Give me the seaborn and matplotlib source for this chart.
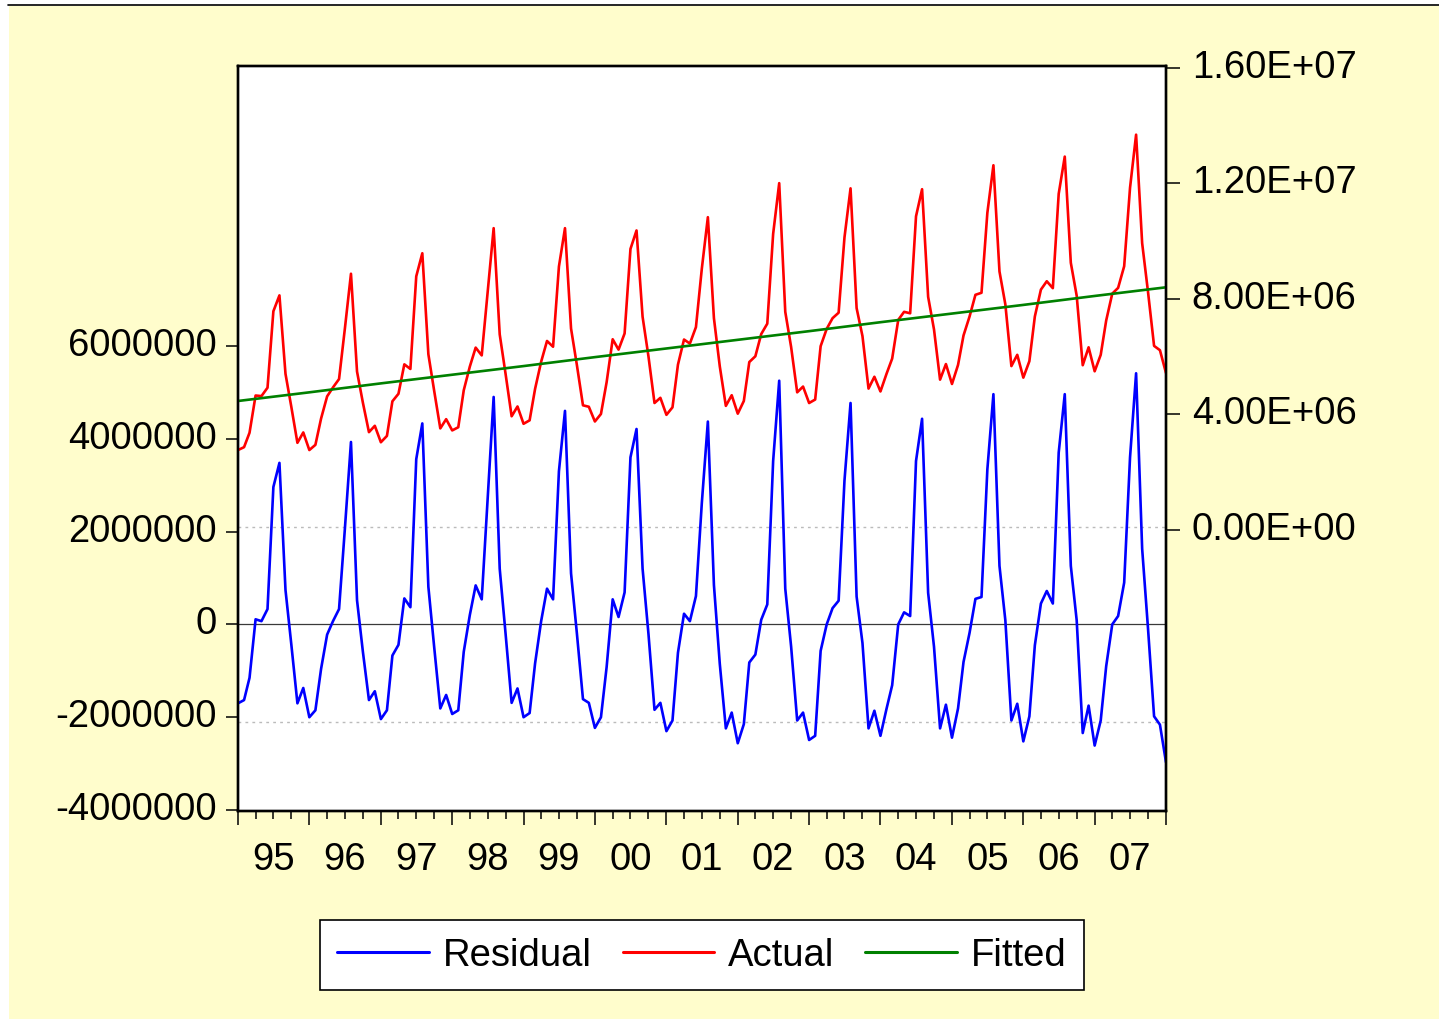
import matplotlib
matplotlib.use("Agg")
import matplotlib.pyplot as plt
import matplotlib.dates as mdates
from matplotlib.ticker import FuncFormatter, NullFormatter
from matplotlib.lines import Line2D
from matplotlib.patches import Rectangle
from matplotlib.transforms import ScaledTranslation
import numpy as np
import pandas as pd
import seaborn as sns

# monthly data Jan 1995 - Jan 2008, in millions
actual = [
    2.76, 2.86, 3.36, 4.65, 4.63, 4.92, 7.57, 8.12, 5.40, 4.25, 3.01, 3.37,
    2.76, 2.94, 3.85, 4.62, 4.93, 5.22, 6.98, 8.87, 5.48, 4.40, 3.38, 3.60,
    3.03, 3.25, 4.45, 4.71, 5.73, 5.57, 8.78, 9.58, 6.08, 4.80, 3.51, 3.83,
    3.44, 3.55, 4.83, 5.65, 6.31, 6.04, 8.20, 10.45, 6.77, 5.40, 3.93, 4.27,
    3.67, 3.79, 4.88, 5.82, 6.54, 6.34, 9.12, 10.45, 6.97, 5.70, 4.31, 4.26,
    3.75, 4.01, 5.11, 6.60, 6.24, 6.80, 9.73, 10.37, 7.38, 6.01, 4.39, 4.57,
    3.98, 4.24, 5.72, 6.59, 6.45, 7.02, 9.04, 10.83, 7.33, 5.66, 4.29, 4.66,
    4.02, 4.46, 5.81, 6.01, 6.78, 7.14, 10.25, 12.01, 7.55, 6.33, 4.76, 4.96,
    4.39, 4.51, 6.36, 6.96, 7.33, 7.52, 10.13, 11.83, 7.68, 6.71, 4.89, 5.30,
    4.79, 5.40, 5.93, 7.27, 7.55, 7.50, 10.86, 11.80, 8.07, 6.94, 5.20, 5.74,
    5.05, 5.71, 6.73, 7.39, 8.14, 8.21, 10.98, 12.63, 8.95, 7.81, 5.67, 6.06,
    5.27, 5.84, 7.39, 8.32, 8.61, 8.37, 11.64, 12.93, 9.25, 8.11, 5.70, 6.32,
    5.49, 6.06, 7.25, 8.18, 8.38, 9.13, 11.85, 13.69, 9.93, 8.24, 6.37, 6.22,
    5.43,
]
residual = [
    -1.70, -1.63, -1.15, 0.11, 0.07, 0.33, 2.96, 3.48, 0.74, -0.44, -1.70, -1.37,
    -2.00, -1.85, -0.96, -0.22, 0.07, 0.33, 2.07, 3.93, 0.52, -0.59, -1.63, -1.44,
    -2.04, -1.85, -0.67, -0.44, 0.56, 0.37, 3.56, 4.33, 0.81, -0.50, -1.81, -1.52,
    -1.93, -1.85, -0.59, 0.20, 0.84, 0.54, 2.68, 4.90, 1.20, -0.20, -1.69, -1.38,
    -2.00, -1.91, -0.84, 0.07, 0.77, 0.54, 3.30, 4.60, 1.10, -0.20, -1.61, -1.69,
    -2.23, -2.00, -0.92, 0.54, 0.16, 0.69, 3.60, 4.21, 1.20, -0.20, -1.84, -1.69,
    -2.30, -2.07, -0.61, 0.23, 0.07, 0.61, 2.61, 4.37, 0.85, -0.85, -2.24, -1.90,
    -2.56, -2.15, -0.82, -0.65, 0.10, 0.43, 3.52, 5.25, 0.77, -0.48, -2.07, -1.90,
    -2.49, -2.40, -0.57, 0.00, 0.35, 0.51, 3.10, 4.77, 0.60, -0.40, -2.24, -1.86,
    -2.40, -1.82, -1.31, 0.00, 0.26, 0.18, 3.52, 4.43, 0.68, -0.48, -2.24, -1.73,
    -2.44, -1.81, -0.81, -0.18, 0.55, 0.59, 3.34, 4.96, 1.26, 0.09, -2.07, -1.71,
    -2.52, -1.98, -0.45, 0.45, 0.72, 0.45, 3.70, 4.96, 1.26, 0.09, -2.34, -1.75,
    -2.61, -2.07, -0.90, 0.00, 0.18, 0.90, 3.60, 5.41, 1.63, -0.09, -1.98, -2.16,
    -2.97,
]
# fitted trend, value at each January 1995..2008
fitted_jan = [4.46, 4.76, 5.07, 5.37, 5.67, 5.98, 6.28, 6.58, 6.88, 7.19, 7.49, 7.79, 8.10, 8.40]
se = 2.1  # +/- 1 S.E. dotted lines

left_ticks = [-4000000, -2000000, 0, 2000000, 4000000, 6000000]
left_labels = ["-4000000", "-2000000", "0", "2000000", "4000000", "6000000"]
right_ticks = [0, 4e6, 8e6, 1.2e7, 1.6e7]
right_labels = ["0.00E+00", "4.00E+06", "8.00E+06", "1.20E+07", "1.60E+07"]

months = pd.date_range("1995-01-01", "2008-01-01", freq="MS")
jans = pd.date_range("1995-01-01", "2008-01-01", freq="YS")
df = pd.DataFrame({"date": months,
                   "Actual": np.array(actual) * 1e6,
                   "Residual": np.array(residual) * 1e6})
fit = pd.DataFrame({"date": jans, "Fitted": np.array(fitted_jan) * 1e6})

sns.set_style("white")
plt.rcParams["font.family"] = ["Liberation Sans", "DejaVu Sans"]
plt.rcParams["text.color"] = "black"
plt.rcParams["xtick.color"] = "black"
plt.rcParams["ytick.color"] = "black"
FS = 27.5
LW = 1.9

W, H = 1439, 1020
fig = plt.figure(figsize=(W / 100, H / 100), dpi=100)
fig.patch.set_facecolor("white")
fig.add_artist(Rectangle((9 / W, 0), 1 - 9 / W, (H - 7) / H, transform=fig.transFigure,
                         facecolor="#FFFDCC", edgecolor="none", zorder=-5))
fig.add_artist(Line2D([8 / W, 1], [1 - 5.5 / H, 1 - 5.5 / H], transform=fig.transFigure,
                      color="black", lw=1.2, zorder=-4))

ax = fig.add_axes([238 / W, (H - 812) / H, 928 / W, 745 / H])
ax.set_facecolor("white")

ax.axhline(0, color="#3a3a3a", lw=0.9, zorder=1)
for s in (se, -se):
    ax.axhline(s * 1e6, color="#BBBBBB", lw=1.0, ls=(0, (2, 3)), zorder=1)
sns.lineplot(data=df, x="date", y="Residual", color="#0000FF", lw=LW, ax=ax, zorder=3)

ax2 = ax.twinx()
sns.lineplot(data=df, x="date", y="Actual", color="#FF0000", lw=LW, ax=ax2)
sns.lineplot(data=fit, x="date", y="Fitted", color="#008000", lw=LW, ax=ax2)

ax.set_xlim(months[0], months[-1])
ax.set_ylim(-4.02e6, 12.03e6)
ax2.set_ylim(-9.75e6, 16.07e6)
ax.set_xlabel("")
ax.set_ylabel("")
ax2.set_ylabel("")

ax.set_yticks(left_ticks)
ax.set_yticklabels(left_labels)
ax2.set_yticks(right_ticks)
ax2.set_yticklabels(right_labels)

ax.xaxis.set_major_locator(mdates.YearLocator())
ax.xaxis.set_minor_locator(mdates.MonthLocator(bymonth=[4, 7, 10]))
ax.xaxis.set_major_formatter(NullFormatter())
ax.xaxis.set_minor_formatter(FuncFormatter(
    lambda v, pos: mdates.num2date(v).strftime("%y") if mdates.num2date(v).month == 7 else ""))

ax.tick_params(axis="x", which="major", bottom=True, direction="out", length=10, width=1.1)
ax.tick_params(axis="x", which="minor", bottom=True, direction="out", length=5.8, width=1.1,
               labelsize=FS, pad=15.8, labelcolor="black")
ax.tick_params(axis="y", left=True, right=False, direction="out", length=8.6, width=1.1,
               labelsize=FS, pad=6.5, labelcolor="black")
ax2.tick_params(axis="y", right=True, left=False, direction="out", length=10, width=1.1,
                labelsize=FS, pad=8.6, labelcolor="black")

# value labels sit a little above their ticks in the original
shift = ScaledTranslation(0, 3.6 / 72, fig.dpi_scale_trans)
for lab in ax.get_yticklabels() + ax2.get_yticklabels():
    lab.set_transform(lab.get_transform() + shift)

for a in (ax, ax2):
    for sp in a.spines.values():
        sp.set_color("black")
        sp.set_linewidth(1.7)

handles = [Line2D([], [], color="#0000FF", lw=2.2),
           Line2D([], [], color="#FF0000", lw=2.2),
           Line2D([], [], color="#008000", lw=2.2)]
leg = ax2.legend(handles, ["Residual", "Actual", "Fitted"], loc="center",
                 bbox_to_anchor=(0.5, -0.1933), ncol=3, frameon=True, fancybox=False,
                 edgecolor="black", framealpha=1, fontsize=FS, handlelength=2.4,
                 handletextpad=0.37, columnspacing=0.8, borderpad=0.45)
leg.get_frame().set_linewidth(1.2)
for t in leg.get_texts():
    t.set_color("black")

fig.savefig("out.png", dpi=100)
